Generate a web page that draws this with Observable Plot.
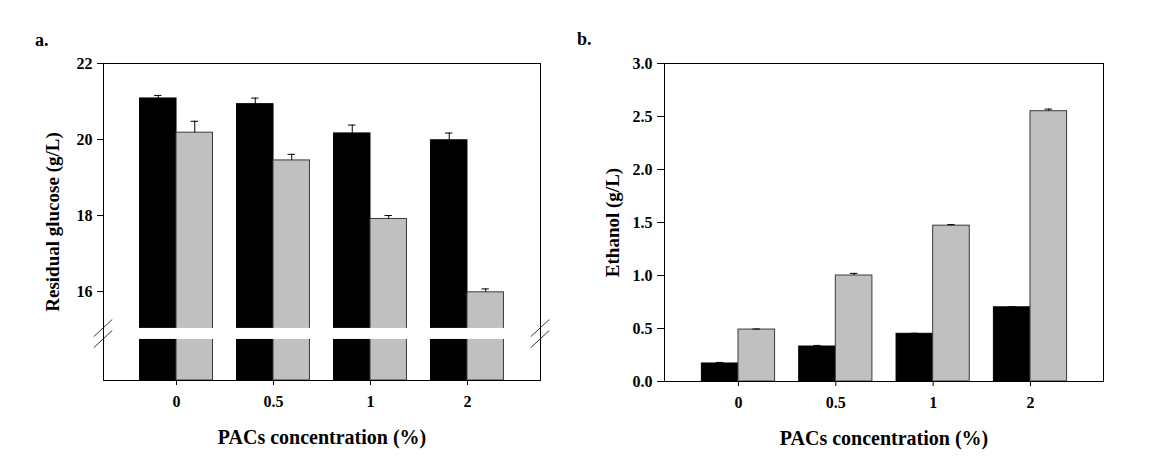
<!DOCTYPE html>
<html>
<head>
<meta charset="utf-8">
<script src="https://cdn.jsdelivr.net/npm/d3@7"></script>
<script src="https://cdn.jsdelivr.net/npm/@observablehq/plot@0.6"></script>
<style>
  html, body { margin: 0; padding: 0; background: #fff; }
  #wrap { position: relative; width: 1149px; height: 462px; overflow: hidden; font-family: "Liberation Serif", "Times New Roman", serif; }
  .panel { position: absolute; top: 0; }
  .letter { position: absolute; font-weight: bold; font-size: 18px; line-height: 1; }
  #wrap svg g[aria-label*="axis"] text { font-size: 16px !important; }
</style>
</head>
<body>
<div id="wrap">
  <div class="panel" id="pa" style="left:0px;"></div>
  <div class="panel" id="pb" style="left:575px;"></div>
  <div class="letter" style="left:35px; top:31px;">a.</div>
  <div class="letter" style="left:577px; top:30px;">b.</div>
</div>
<script>
// ---- data ----
const concentrations = ["0", "0.5", "1", "2"];
// Panel a: residual glucose (g/L)
const glucoseBlack = [21.08, 20.93, 20.16, 19.98];
const glucoseBlackErr = [0.08, 0.16, 0.22, 0.19];
const glucoseGray = [20.18, 19.45, 17.91, 15.98];
const glucoseGrayErr = [0.30, 0.16, 0.09, 0.09];
// Panel b: ethanol (g/L)
const ethanolBlack = [0.17, 0.33, 0.45, 0.70];
const ethanolBlackErr = [0.01, 0.01, 0.005, 0.005];
const ethanolGray = [0.49, 1.00, 1.47, 2.55];
const ethanolGrayErr = [0.005, 0.02, 0.01, 0.02];
// tick values
const glucoseTicks = [16, 18, 20, 22];
const ethanolTicks = [0, 0.5, 1.0, 1.5, 2.0, 2.5, 3.0];
// axis break (in g/L) on panel a
const glucoseAxisMin = 13.66;
const glucoseBreak = [14.74, 15.03];
// labels
const xTitle = "PACs concentration (%)";
const yTitleA = "Residual glucose (g/L)";
const yTitleB = "Ethanol (g/L)";

const series = ["S1", "S2"];
const barW = 0.376;   // width of one bar in category units
const capW = 0.038;   // half width of error cap

function table(blackVals, blackErr, grayVals, grayErr) {
  const rows = [];
  concentrations.forEach((c, i) => {
    rows.push({i, c, s: "S1", v: blackVals[i], e: blackErr[i], x1: i - barW, x2: i});
    rows.push({i, c, s: "S2", v: grayVals[i], e: grayErr[i], x1: i, x2: i + barW});
  });
  rows.forEach(r => r.xc = (r.x1 + r.x2) / 2);
  return rows;
}

const baseStyle = {fontFamily: "Liberation Serif, Times New Roman, serif", fontWeight: "bold", fontSize: "16px", background: "transparent", color: "#000"};

function barsMarks(rows, base) {
  return [
    Plot.rect(rows, {x1: "x1", x2: "x2", y1: () => base, y2: "v", fill: "s", stroke: d => d.s === "S1" ? "#000" : "#3a3a3a", strokeWidth: 1}),
    Plot.ruleX(rows, {x: "xc", y1: "v", y2: d => d.v + d.e, stroke: "#000", strokeWidth: 1}),
    Plot.ruleY(rows, {y: d => d.v + d.e, x1: d => d.xc - capW, x2: d => d.xc + capW, stroke: "#000", strokeWidth: 1})
  ];
}

function titleMarks(yTitle, yOffset) {
  return [
    Plot.text([xTitle], {text: d => d, frameAnchor: "bottom", lineAnchor: "middle", dy: 57, fontSize: 20, fontWeight: "bold", fill: "#000"}),
    Plot.text([yTitle], {text: d => d, frameAnchor: "left", textAnchor: "middle", lineAnchor: "middle", dx: -yOffset, rotate: -90, fontSize: 19, fontWeight: "bold", fill: "#000"})
  ];
}

// ---- panel a ----
const rowsA = table(glucoseBlack, glucoseBlackErr, glucoseGray, glucoseGrayErr);
const xDomain = [-0.753, 3.753];
const breakMid = (glucoseBreak[0] + glucoseBreak[1]) / 2;
const slashes = [];
[xDomain[0], xDomain[1]].forEach(xa => {
  [-0.14, 0.15].forEach(off => {
    slashes.push({x1: xa - 0.10, x2: xa + 0.09, y1: breakMid + off - 0.22, y2: breakMid + off + 0.23});
  });
});

const plotA = Plot.plot({
  width: 575, height: 462,
  marginLeft: 103, marginRight: 35, marginTop: 63, marginBottom: 82,
  style: baseStyle,
  x: {domain: xDomain, ticks: [0, 1, 2, 3], tickFormat: i => concentrations[i], tickSize: 5, tickPadding: 10, label: null},
  y: {domain: [glucoseAxisMin, 22], ticks: glucoseTicks, tickFormat: d3.format("d"), tickSize: 6, tickPadding: 5, label: null},
  color: {domain: series, range: ["#000000", "#c0c0c0"]},
  marks: [
    ...barsMarks(rowsA, glucoseAxisMin),
    Plot.rect([glucoseBreak], {x1: () => -barW - 0.03, x2: () => 3 + barW + 0.03, y1: d => d[0], y2: d => d[1], fill: "#fff"}),
    Plot.frame({stroke: "#000", strokeWidth: 1}),
    Plot.link(slashes, {x1: "x1", x2: "x2", y1: "y1", y2: "y2", stroke: "#000", strokeWidth: 0.8}),
    ...titleMarks(yTitleA, 51)
  ]
});
document.getElementById("pa").appendChild(plotA);

// ---- panel b ----
const rowsB = table(ethanolBlack, ethanolBlackErr, ethanolGray, ethanolGrayErr);
const plotB = Plot.plot({
  width: 574, height: 462,
  marginLeft: 89, marginRight: 46, marginTop: 63, marginBottom: 81,
  style: baseStyle,
  x: {domain: [-0.76, 3.75], ticks: [0, 1, 2, 3], tickFormat: i => concentrations[i], tickSize: 5, tickPadding: 10, label: null},
  y: {domain: [0, 3], ticks: ethanolTicks, tickFormat: d3.format(".1f"), tickSize: 7, tickPadding: 5, label: null},
  color: {domain: series, range: ["#000000", "#c0c0c0"]},
  marks: [
    ...barsMarks(rowsB, 0),
    Plot.frame({stroke: "#000", strokeWidth: 1}),
    ...titleMarks(yTitleB, 52)
  ]
});
document.getElementById("pb").appendChild(plotB);
</script>
</body>
</html>
